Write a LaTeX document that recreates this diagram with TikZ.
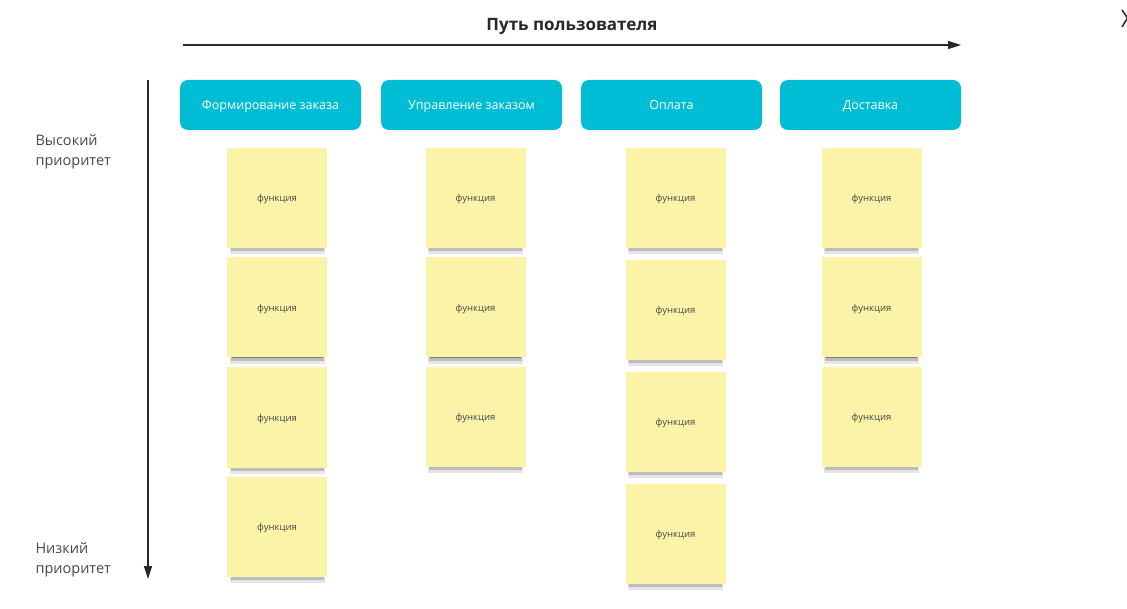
\documentclass[tikz,border=0pt]{standalone}
\usepackage{fontspec}
\setmainfont{Open Sans}
\usetikzlibrary{arrows.meta,positioning,shadows}
\definecolor{stagecyan}{RGB}{0,189,214}
\definecolor{notey}{RGB}{251,244,168}
\definecolor{inkgray}{RGB}{40,40,40}

\begin{document}
\begin{tikzpicture}[x=1pt,y=-1pt,
  stage/.style={fill=stagecyan,rounded corners=8pt,minimum width=181pt,minimum height=50pt,inner sep=0pt,text depth=0pt,text=white,font=\fontsize{12.5}{14}\selectfont},
  note/.style={fill=notey,minimum width=100pt,minimum height=100pt,inner sep=0pt,text depth=0pt,text=black!72,font=\fontsize{9.5}{11}\selectfont,
    drop shadow={shadow xshift=0pt,shadow yshift=-9pt,shadow scale=.95,opacity=.10,fill=black},
    drop shadow={shadow xshift=0pt,shadow yshift=-7pt,shadow scale=.93,opacity=.18,fill=black},
    drop shadow={shadow xshift=0pt,shadow yshift=-5pt,shadow scale=.91,opacity=.35,fill=black}},
  axis/.style={draw=inkgray,line width=1.2pt,-{Triangle[length=13pt,width=8pt]}},
  side/.style={anchor=north west,align=left,text=inkgray!85,font=\fontsize{14.5}{20.5}\selectfont}]
\useasboundingbox (0,0) rectangle (1127,609);
% axes
\node[font=\fontsize{17}{19}\selectfont\bfseries,text=inkgray] (path) at (572,26) {Путь пользователя};
\coordinate (h0) at (183,45);
\coordinate (h1) at (961,45);
\coordinate (v0) at (148,80);
\coordinate (v1) at (148,579);
\draw[axis] (h0)--(h1);
\draw[axis] (v0)--(v1);
\node[side] (high) at (32,131) {Высокий\\приоритет};
\node[side] (low) at (32,539) {Низкий\\приоритет};
% stages
\node[stage] (s1) at (270.5,105) {Формирование заказа};
\node[stage] (s2) at (471.5,105) {Управление заказом};
\node[stage] (s3) at (671.5,105) {Оплата};
\node[stage] (s4) at (870.5,105) {Доставка};
% notes
\node[note] (n11) at (277,198) {функция};
\node[note] (n12) at (277,307.5) {функция};
\node[note] (n13) at (277,417.5) {функция};
\node[note] (n14) at (277,527) {функция};
\node[note] (n21) at (475.5,198) {функция};
\node[note] (n22) at (475.5,307.5) {функция};
\node[note] (n23) at (475.5,417) {функция};
\node[note] (n31) at (675.5,198) {функция};
\node[note] (n32) at (675.5,310) {функция};
\node[note] (n33) at (675.5,422) {функция};
\node[note] (n34) at (675.5,534) {функция};
\node[note] (n41) at (871.5,198) {функция};
\node[note] (n42) at (871.5,307.5) {функция};
\node[note] (n43) at (871.5,417) {функция};
% corner mark
\draw[line width=1.5pt,inkgray] (1122,10)--(1127.5,18)--(1122,27);
\end{tikzpicture}
\end{document}
